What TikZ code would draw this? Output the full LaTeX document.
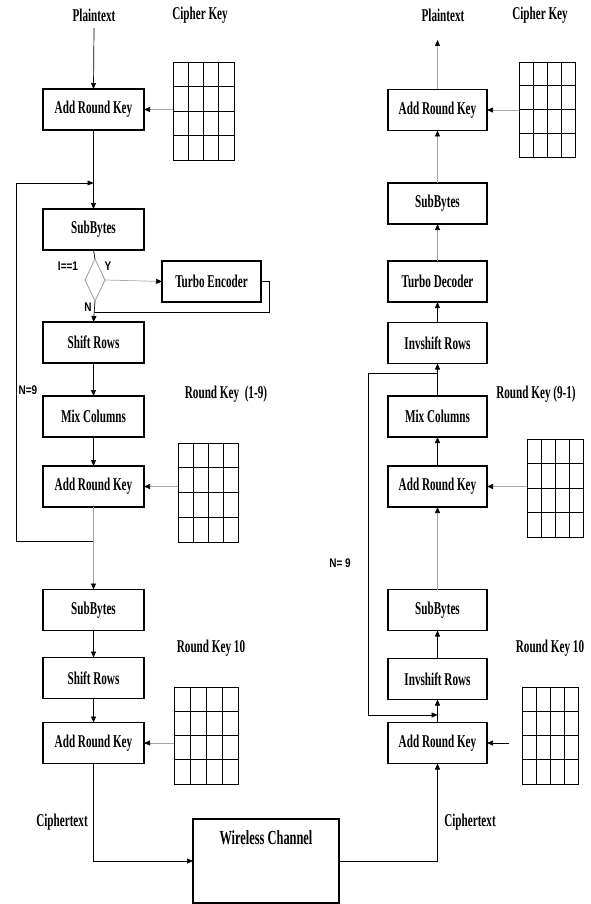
\documentclass[tikz,border=0pt]{standalone}
\usepackage{fontspec}
\setmainfont{Liberation Serif}
\newfontfamily\cfont[FakeStretch=0.62]{Liberation Serif}
\newfontfamily\sfont[FakeStretch=0.8]{Liberation Sans}
\usetikzlibrary{arrows.meta,shapes.geometric,calc}
\begin{document}
\begin{tikzpicture}[x=1pt,y=-1pt,
  box/.style={draw,line width=1.2pt,minimum width=101pt,minimum height=41pt,inner sep=0pt,outer sep=0pt,font=\cfont\bfseries\fontsize{18}{18}\selectfont},
  rbox/.style={box,minimum width=99pt},
  lbl/.style={inner sep=0pt,font=\cfont\bfseries\fontsize{18}{18}\selectfont},
  slbl/.style={inner sep=0pt,font=\sfont\bfseries\fontsize{12.5}{12.5}\selectfont},
  keyg/.style={draw,line width=0.9pt,anchor=north west,inner sep=0pt,outer sep=0pt},
  conn/.style={line width=0.7pt},
  arr/.style={conn,-{Triangle[length=6pt,width=5pt,color=black]}},
  garr/.style={arr,draw=gray!70},
  gconn/.style={conn,draw=gray!70}
]
\useasboundingbox (0,0) rectangle (590,904);

% ---------- left column ----------
\node[lbl] (ptl) at (94,15) {Plaintext};
\node[lbl] (ckl) at (200,15) {Cipher Key};
\node[box] (L1) at (93.5,109.5) {Add Round Key};
\node[box] (L2) at (93.5,229.5) {SubBytes};
\node[draw=gray!70,line width=0.9pt,diamond,minimum width=20pt,minimum height=42pt,inner sep=0pt,outer sep=0pt] (d) at (95,280) {};
\node[box,minimum width=99pt] (TE) at (211.5,281.5) {Turbo Encoder};
\node[box] (L3) at (93.5,342.5) {Shift Rows};
\node[box] (L4) at (93.5,416.5) {Mix Columns};
\node[box] (L5) at (93.5,486.5) {Add Round Key};
\node[box] (L6) at (93.5,610) {SubBytes};
\node[box] (L7) at (93.5,678) {Shift Rows};
\node[box] (L8) at (93.5,743) {Add Round Key};

\node[slbl] (ieq) at (68,266) {I==1};
\node[slbl] (yl) at (108,266) {Y};
\node[slbl] (nl) at (88,307) {N};
\node[slbl] (n9l) at (28,390) {N=9};
\node[lbl] (rk19) at (226,394) {Round Key\ \ (1-9)};
\node[lbl] (rk10l) at (211,648) {Round Key 10};
\node[lbl] (ctl) at (62,822) {Ciphertext};

\node[keyg,minimum width=61pt,minimum height=98pt] (g1) at (173,62) {};
\node[keyg,minimum width=60pt,minimum height=99pt] (g2) at (178,443) {};
\node[keyg,minimum width=64pt,minimum height=97pt] (g3) at (174,687) {};

% ---------- wireless ----------
\node[draw,line width=1.2pt,minimum width=146pt,minimum height=84pt,inner sep=0pt,outer sep=0pt] (wc) at (266,861) {};
\node[lbl,font=\cfont\bfseries\fontsize{20}{20}\selectfont] (wct) at (266,838) {Wireless Channel};

% ---------- right column ----------
\node[lbl] (ptr) at (443,15) {Plaintext};
\node[lbl] (ckr) at (540,15) {Cipher Key};
\node[rbox] (R1) at (437.5,110) {Add Round Key};
\node[rbox] (R2) at (437.5,203.5) {SubBytes};
\node[rbox] (R3) at (437.5,281.5) {Turbo Decoder};
\node[rbox] (R4) at (437.5,343) {Invshift Rows};
\node[rbox] (R5) at (437.5,416.5) {Mix Columns};
\node[rbox] (R6) at (437.5,486.5) {Add Round Key};
\node[rbox] (R7) at (437.5,610) {SubBytes};
\node[rbox] (R8) at (437.5,679) {Invshift Rows};
\node[rbox] (R9) at (437.5,743) {Add Round Key};

\node[lbl] (rk91) at (536,394) {Round Key (9-1)};
\node[lbl] (rk10r) at (550,648) {Round Key 10};
\node[slbl] (n9r) at (340,563) {N= 9};
\node[lbl] (ctr) at (470,822) {Ciphertext};

\node[keyg,minimum width=56pt,minimum height=95pt] (g4) at (519,62) {};
\node[keyg,minimum width=56pt,minimum height=98pt] (g5) at (527,439) {};
\node[keyg,minimum width=56pt,minimum height=97pt] (g6) at (522,687) {};

% grid lines
\foreach \g in {g1,g2,g3,g4,g5,g6}{
  \foreach \i in {1,2,3}{
    \draw[line width=0.9pt] ($(\g.north west)!\i/4!(\g.north east)$) -- ($(\g.south west)!\i/4!(\g.south east)$);
    \draw[line width=0.9pt] ($(\g.north west)!\i/4!(\g.south west)$) -- ($(\g.north east)!\i/4!(\g.south east)$);
  }
}

% ---------- left connectors ----------
\coordinate (ptlb) at (94,28);
\coordinate (lt) at (93.5,183);
\coordinate (lb) at (93.5,541);
\coordinate (lx1) at (16,541);
\coordinate (lx2) at (16,183);
\coordinate (jn) at (93.5,312);
\coordinate (tex) at (269,281.5);
\draw[arr] (ptlb) -- (L1.north);
\draw[garr] (g1.west |- L1.east) -- (L1.east);
\draw[arr] (L1.south) -- (L2.north);
\draw[arr] (lb) -- (lx1) -- (lx2) -- (lt);
\draw[conn] (L2.south) -- (d.north);
\draw[garr] (d.east) -- (TE.west);
\draw[conn] (TE.east) -- (tex) |- (jn);
\draw[arr] (d.south) -- (L3.north);
\draw[arr] (L3.south) -- (L4.north);
\draw[arr] (L4.south) -- (L5.north);
\draw[garr] (g2.west |- L5.east) -- (L5.east);
\draw[garr] (L5.south) -- (L6.north);
\draw[arr] (L6.south) -- (L7.north);
\draw[arr] (L7.south) -- (L8.north);
\draw[garr] (g3.west |- L8.east) -- (L8.east);

% ---------- channel ----------
\draw[arr] (L8.south) |- (wc.west);
\draw[arr] (wc.east) -| (R9.south);

% ---------- right connectors ----------
\coordinate (ptrb) at (437.5,40);
\coordinate (rt) at (437.5,373);
\coordinate (rb) at (437.5,715);
\coordinate (rx1) at (368,373);
\coordinate (rx2) at (368,715);
\draw[garr] (R1.north) -- (ptrb);
\draw[garr] (g4.west |- R1.east) -- (R1.east);
\draw[garr] (R2.north) -- (R1.south);
\draw[garr] (R3.north) -- (R2.south);
\draw[arr] (R4.north) -- (R3.south);
\draw[arr] (R5.north) -- (R4.south);
\draw[conn] (rt) -- (rx1) -- (rx2);
\draw[arr] (rx2) -- (rb);
\draw[arr] (R6.north) -- (R5.south);
\draw[garr] (g5.west |- R6.east) -- (R6.east);
\draw[garr] (R7.north) -- (R6.south);
\draw[arr] (R8.north) -- (R7.south);
\draw[arr] (R9.north) -- (R8.south);
\draw[arr,shorten <=13pt] (g6.west |- R9.east) -- (R9.east);
\end{tikzpicture}
\end{document}
